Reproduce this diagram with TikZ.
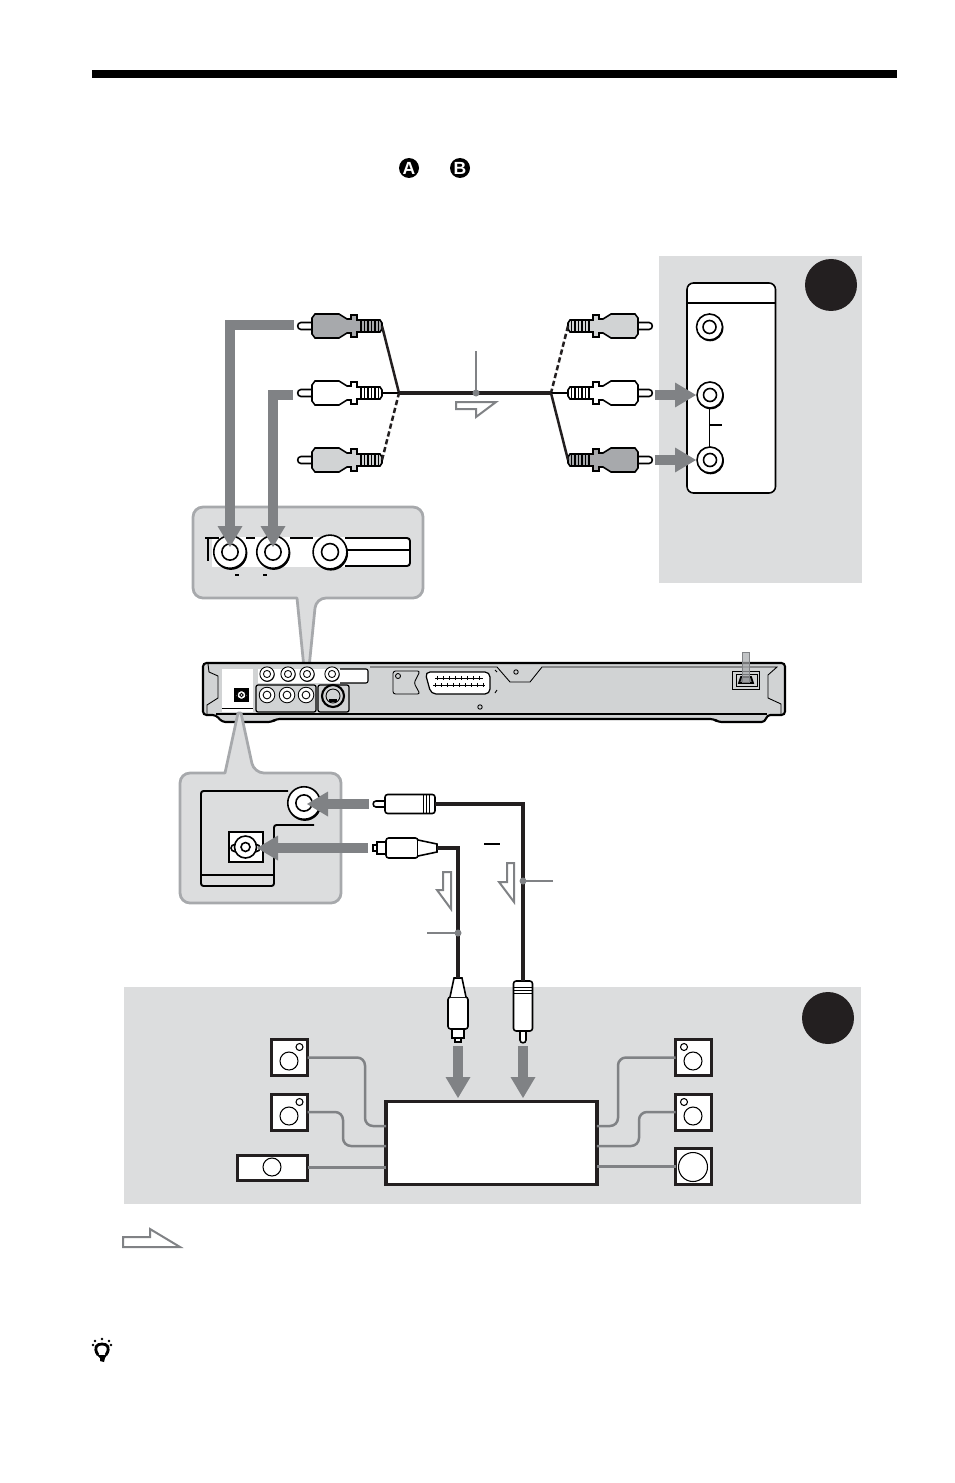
\documentclass[tikz,border=0pt]{standalone}
\usepackage{fontspec}
\setmainfont{Liberation Sans}
\usetikzlibrary{arrows.meta}
\definecolor{panelgray}{HTML}{DCDDDE}
\definecolor{rimgray}{HTML}{A7A9AC}
\definecolor{bodygray}{HTML}{D1D3D4}
\definecolor{feedgray}{HTML}{808285}
\definecolor{inkblack}{HTML}{231F20}
\tikzset{
	feedarrow/.style={draw=feedgray, line width=2mm, -{Triangle[length=4.2mm, width=5mm, line width=0pt]}},
	insetbox/.style={draw=rimgray, fill=panelgray, line width=0.55mm, line join=round},
	hollowarrow/.style={draw=feedgray, fill=white, line width=0.4mm},
	tagline/.style={draw=feedgray, line width=0.3mm},
	tagdot/.style={fill=feedgray},
	cablemain/.style={draw=inkblack, line width=0.65mm},
	cablebranch/.style={draw=inkblack, line width=0.5mm},
	spkwire/.style={draw=feedgray, line width=0.5mm, rounded corners=1.6mm},
	speaker/.style={draw=inkblack, fill=white, line width=0.6mm, inner sep=0pt, outer sep=0pt, minimum width=0.72cm, minimum height=0.72cm},
	receiver/.style={draw=inkblack, fill=white, line width=0.65mm, inner sep=0pt, outer sep=0pt, minimum width=4.22cm, minimum height=1.66cm},
	badge/.style={circle, fill=black, text=white, inner sep=0pt, minimum size=0.4cm, font=\bfseries\fontsize{10pt}{10pt}\selectfont},
	smalljack/.style={line width=0.5pt},
	rcaplug/.pic={
		\draw[fill=white] (15,-3.5) -- (4,-3.5) to[out=180,in=180,looseness=1.6] (4,3.5) -- (15,3.5);
		\draw[pic actions] (15,-8) -- (18,-12) -- (42,-12) -- (50,-7) -- (54,-7) -- (54,-11) -- (60,-11) -- (60,-6) -- (83,-6) -- (85,-3) -- (85,3) -- (83,6) -- (60,6) -- (60,11) -- (54,11) -- (54,7) -- (50,7) -- (42,12) -- (18,12) -- (15,8) -- cycle;
		\foreach \xr in {64,67.5,71,74.5,78,81.5}
			\draw[line width=0.7pt] (\xr,-6) -- (\xr,6);
		\coordinate (-end) at (85,0);
	},
	coaxplug/.pic={
		\draw[fill=white] (12,-3) -- (3,-3) to[out=180,in=180,looseness=1.6] (3,3) -- (12,3);
		\draw[fill=white, rounded corners=1.5pt] (12,-9.5) -- (62,-9.5) -- (62,9.5) -- (12,9.5) -- cycle;
		\draw[line width=0.5pt] (50,-9.5) -- (50,9.5) (53,-9.5) -- (53,9.5) (56,-9.5) -- (56,9.5);
		\coordinate (-end) at (62,0);
	},
	opticalplug/.pic={
		\draw[fill=white] (5,-3) -- (1,-3) -- (1,3) -- (5,3);
		\draw[fill=white] (5,-6) -- (14,-6) -- (14,6) -- (5,6) -- cycle;
		\draw[fill=white, rounded corners=1.5pt] (14,-10) -- (46,-10) -- (46,10) -- (14,10) -- cycle;
		\draw[fill=white] (46,-8) -- (65,-4) -- (65,4) -- (46,8);
		\coordinate (-end) at (65,0);
	},
	jackport/.pic={
		\fill (0.6,1) circle (13.3);
		\draw[fill=white, pic actions] (0,0) circle (13);
		\draw[fill=white] (0,0) circle (6.5);
	},
	opticalport/.pic={
		\draw[fill=white] (-11,1) circle (3.5) (11,1) circle (3.5);
		\draw[fill=white] (0,0) circle (11);
		\fill[white] (-9.5,-2) rectangle (9.5,4);
		\draw[fill=white] (0,0) circle (4.5);
	},
}
\begin{document}
\begin{tikzpicture}[x=0.02cm, y=-0.02cm, line width=0.9pt, line cap=butt]
	\useasboundingbox (0,0) rectangle (954,1483);

	\fill[black] (92,70) rectangle (897,78);
	\node[badge] (badgeA) at (409,168) {A};
	\node[badge] (badgeB) at (460,168) {B};

	% amplifier side, top
	\fill[panelgray] (659,256) rectangle (862,583);
	\fill[inkblack] (831,285) circle (26);
	\draw[fill=white, rounded corners=1.3mm] (687,283) rectangle (775.5,493);
	\draw (687,303) -- (775.5,303);
	\draw (709.5,405) -- (709.5,450) (709.5,425) -- (722,425);
	\pic (jackTop) at (709.5,327) {jackport};
	\pic (jackMid) at (710,395) {jackport};
	\pic (jackLow) at (710,460) {jackport};

	% inset over the player
	\draw[insetbox] (297,598) [rounded corners=2mm] -- (193,598) -- (193,507) -- (423,507) -- (423,598) -- (316,598) [sharp corners] -- (309,668) -- (304,668) -- cycle;
	\fill[white] (212,537) rectangle (350,567);
	\draw[line width=1.1pt, fill=white, rounded corners=0.6mm] (345,538) -- (410,538) -- (410,566) -- (345,566);
	\draw[line width=1.1pt] (347,550) -- (410,550);
	\draw[line width=1.2pt] (205,538) -- (219,538) (208,538) -- (208,561);
	\draw (246,538) -- (255,538) (290,538) -- (313,538);
	\draw[line width=0.6pt] (235,575) -- (239,575) (263,575) -- (267,575);
	\pic[scale=1.25] (insJackA) at (230,552) {jackport};
	\pic[scale=1.25] (insJackB) at (273,552) {jackport};
	\pic[scale=1.3] (insJackC) at (330,552) {jackport};

	% cables and plugs, top
	\coordinate (forkL) at (399,393);
	\coordinate (forkR) at (551,393);
	\coordinate (tagTop) at (476,393);
	\coordinate (tagTopEnd) at (476,351);
	\pic[fill=rimgray] (plugA) at (297,326) {rcaplug};
	\pic[fill=white] (plugB) at (297,393) {rcaplug};
	\pic[fill=bodygray] (plugC) at (297,460) {rcaplug};
	\pic[xscale=-1, fill=bodygray] (plugD) at (653,326) {rcaplug};
	\pic[xscale=-1, fill=white] (plugE) at (653,393) {rcaplug};
	\pic[xscale=-1, fill=rimgray] (plugF) at (653,460) {rcaplug};
	\draw[cablemain] (forkL) -- (forkR);
	\draw[cablebranch] (plugA-end) -- (forkL);
	\draw (plugB-end) -- (forkL);
	\draw[cablebranch, dash pattern=on 3pt off 1.6pt] (plugC-end) -- (forkL);
	\draw[cablebranch, dash pattern=on 3pt off 1.6pt] (plugD-end) -- (forkR);
	\draw (plugE-end) -- (forkR);
	\draw[cablebranch] (plugF-end) -- (forkR);
	\draw[tagline] (tagTopEnd) -- (tagTop);
	\fill[tagdot] (tagTop) circle (3.5);
	\draw[hollowarrow] (456,402) -- (496,402) -- (476,417) -- (476,409) -- (456,409) -- cycle;

	\coordinate (feedA) at (294,325);
	\coordinate (tipA) at (230,547);
	\coordinate (feedB) at (293,395);
	\coordinate (tipB) at (273,547);
	\draw[feedarrow] (feedA) -| (tipA);
	\draw[feedarrow] (feedB) -| (tipB);
	\coordinate (feedE) at (655,395);
	\coordinate (feedF) at (655,460);
	\coordinate (tipE) at (696,395);
	\coordinate (tipF) at (696,460);
	\draw[feedarrow] (feedE) -- (tipE);
	\draw[feedarrow] (feedF) -- (tipF);

	% player
	\draw[fill=bodygray, line width=1.2pt, rounded corners=0.7mm] (203,663) -- (785,663) -- (785,715) -- (767,715) -- (765,722) -- (718,722) -- (714,719) -- (276,719) -- (272,722) -- (222,722) -- (216,715) -- (203,715) -- cycle;
	\draw[line width=1pt] (216,714) -- (767,714);
	\draw[line width=0.5pt] (370,667) -- (497,667) -- (510,682) -- (530,682) -- (542,667) -- (777,667) -- (768,675) -- (768,698) -- (781,704) -- (781,714);
	\draw[line width=0.5pt] (208,664) -- (209,672) -- (218,676) -- (218,698) -- (207,705) -- (207,714);
	\fill[white] (222,669) rectangle (253,712);
	\fill[white] (258,669) rectangle (368,683);
	\draw[line width=0.5pt] (222,708) -- (253,708);
	\draw[line width=0.6pt, rounded corners=0.4mm] (340,669) -- (368,669) -- (368,683) -- (340,683);
	\draw[line width=0.7pt, rounded corners=0.4mm] (256,712) -- (256,685) -- (316,685) -- (316,712) -- cycle;
	\draw[line width=0.7pt, rounded corners=0.4mm] (318,712) -- (318,685) -- (349,685) -- (349,712) -- cycle;
	\foreach \xj in {267,288,307,332}
		\pic[scale=0.55, smalljack] at (\xj,674) {jackport};
	\foreach \xj in {267,287,306}
		\pic[scale=0.6, smalljack, fill=bodygray] at (\xj,695) {jackport};
	\draw[line width=1.2pt, fill=bodygray] (333,696) circle (11);
	\draw[line width=0.5pt, fill=bodygray] (333,696) circle (7);
	\fill (329,702) rectangle (337,699);
	\fill[black] (234,688) rectangle (249,702);
	\pic[scale=0.4, smalljack] at (241.5,695) {opticalport};
	\draw[line width=0.5pt, rounded corners=0.5mm] (420,671) -- (393,671) -- (393,694) -- (420,694) -- (414,683) -- cycle;
	\draw[line width=0.5pt] (495,670) -- (497,672) (497,690) -- (495,693);
	\draw[line width=0.5pt] (398,676) circle (2.5);
	\draw[fill=white, line width=0.7pt, rounded corners=1mm] (425,672) -- (490,672) -- (490,694) -- (431,694) -- cycle;
	\draw[line width=0.5pt] (435,678) -- (483,678) (433,685) -- (485,685);
	\foreach \xs in {437,443,...,481}
		\draw[line width=0.5pt] (\xs,676) -- (\xs,680);
	\foreach \xs in {435,441,...,483}
		\draw[line width=0.5pt] (\xs,683) -- (\xs,687);
	\draw[line width=0.5pt] (516,672) circle (2.2) (480,707) circle (2.2);
	\draw[line width=0.5pt, fill=bodygray] (732,671) rectangle (759,689);
	\draw[line width=0.5pt] (736,674) rectangle (757,686);
	\draw[line width=1pt, fill=feedgray] (741,677) -- (751,677) -- (753,683) -- (739,683) -- cycle;
	\fill[rimgray, opacity=0.7] (742,652) rectangle (749,683);
	\draw[feedgray, line width=0.3pt] (742,683) -- (742,652) -- (749,652) -- (749,683);

	% inset under the player
	\draw[insetbox] (225,773) [rounded corners=2mm] -- (180,773) -- (180,903) -- (341,903) -- (341,773) -- (254,773) [sharp corners] -- (241,713) -- (238,713) -- cycle;
	\draw[line width=1.1pt, rounded corners=0.5mm] (288,791) -- (201,791) -- (201,886) -- (274,886) -- (274,825) -- (314,825);
	\draw[line width=0.8pt] (201,875) -- (274,875);
	\pic[scale=1.25] (coaxJack) at (304,803) {jackport};
	\draw[fill=white] (229,832) rectangle (263,862);
	\pic (optJack) at (245.5,847) {opticalport};

	% amplifier side, bottom
	\fill[panelgray] (124,987) rectangle (861,1204);
	\fill[inkblack] (828,1018) circle (26);

	% digital cables
	\pic (plugCoax) at (373,804) {coaxplug};
	\pic (plugOpt) at (372,848) {opticalplug};
	\pic[rotate=90] (plugCoaxB) at (523,1043) {coaxplug};
	\pic[rotate=90] (plugOptB) at (458,1043) {opticalplug};
	\coordinate (tagOpt) at (458,933);
	\coordinate (tagOptEnd) at (427,933);
	\coordinate (tagCoax) at (523,881);
	\coordinate (tagCoaxEnd) at (553,881);
	\draw[cablemain] (plugCoax-end) -| (plugCoaxB-end);
	\draw[cablemain] (plugOpt-end) -| (plugOptB-end);
	\draw[tagline] (tagOptEnd) -- (tagOpt);
	\draw[tagline] (tagCoaxEnd) -- (tagCoax);
	\fill[tagdot] (tagOpt) circle (3.5);
	\fill[tagdot] (tagCoax) circle (3.5);
	\draw[line width=0.6pt] (484,844) -- (500,844);
	\draw[hollowarrow] (443,872) -- (451,872) -- (451,909) -- (437,890) -- (443,890) -- cycle;
	\draw[hollowarrow] (507,863) -- (514,863) -- (514,902) -- (499,882) -- (507,882) -- cycle;
	\coordinate (feedCoax) at (369,804);
	\coordinate (tipCoax) at (307,804);
	\coordinate (feedOpt) at (368,848);
	\coordinate (tipOpt) at (257,848);
	\draw[feedarrow] (feedCoax) -- (tipCoax);
	\draw[feedarrow] (feedOpt) -- (tipOpt);

	% speakers and receiver
	\node[receiver] (amp) at (491.5,1143) {};
	\node[speaker] (spkFL) at (289.5,1057.5) {};
	\node[speaker] (spkSL) at (289.5,1112) {};
	\node[speaker, minimum width=1.42cm, minimum height=0.5cm] (spkC) at (272.5,1167.5) {};
	\node[speaker] (spkFR) at (693.5,1057.5) {};
	\node[speaker] (spkSR) at (693.5,1112) {};
	\node[speaker] (spkW) at (693.5,1166.5) {};
	\draw[spkwire] (spkFL.east) -- (365,1057.5) |- (amp.west |- 0,1126);
	\draw[spkwire] (spkSL.east) -- (343,1112) |- (amp.west |- 0,1146);
	\draw[spkwire] (spkC.east) -- (spkC.east -| amp.west);
	\draw[spkwire] (spkFR.west) -- (618,1057.5) |- (amp.east |- 0,1126);
	\draw[spkwire] (spkSR.west) -- (639,1112) |- (amp.east |- 0,1146);
	\draw[spkwire] (spkW.west) -- (spkW.west -| amp.east);
	\foreach \ys in {1061,1116} {
		\draw[line width=0.6pt] (289,\ys) circle (9);
		\draw[line width=0.6pt] (299.5,\ys-14) circle (3.5);
		\draw[line width=0.6pt] (693,\ys) circle (9);
		\draw[line width=0.6pt] (684,\ys-14) circle (3.5);
	}
	\draw[line width=0.6pt] (272,1167) circle (9);
	\draw[line width=0.6pt] (693,1167) circle (14.5);
	\coordinate (feedOptB) at (458,1046);
	\coordinate (tipOptB) at (458,1098);
	\coordinate (feedCoaxB) at (523,1046);
	\coordinate (tipCoaxB) at (523,1098);
	\draw[feedarrow] (feedOptB) -- (tipOptB);
	\draw[feedarrow] (feedCoaxB) -- (tipCoaxB);

	% legend arrow and tip icon
	\draw[hollowarrow] (123,1237) -- (150,1237) -- (150,1229) -- (180,1247) -- (123,1247) -- cycle;
	\draw[line width=1.6pt] (98,1355) .. controls (93,1347) and (97,1344) .. (102,1344) .. controls (107,1344) and (111,1347) .. (106,1355);
	\fill (97,1355) -- (107,1355) -- (105,1358) -- (104,1362) -- (100,1361) -- (100,1358) -- cycle;
	\fill (102,1339) circle (1.4) (95,1341) circle (1.4) (109,1341) circle (1.4) (93,1345) circle (1.4) (111,1345) circle (1.4);
\end{tikzpicture}
\end{document}
